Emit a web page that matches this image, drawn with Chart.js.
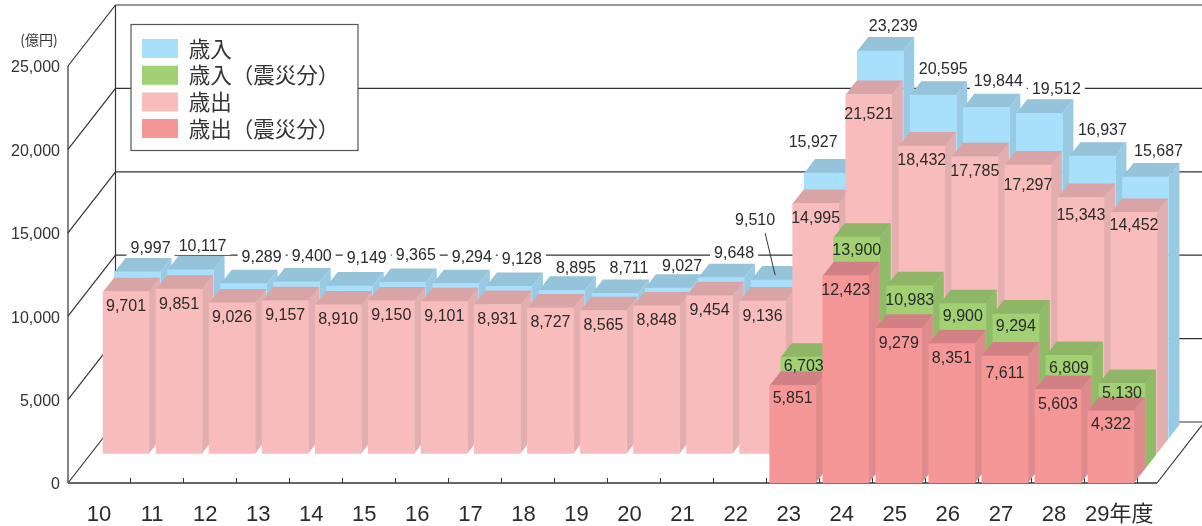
<!DOCTYPE html>
<html lang="ja">
<head>
<meta charset="utf-8">
<title>歳入・歳出の推移</title>
<script src="https://cdn.jsdelivr.net/npm/chart.js@4/dist/chart.umd.js"></script>
<style>
  html, body { margin: 0; padding: 0; background: #fff; }
  canvas { display: block; }
</style>
</head>
<body>
<canvas id="chart" width="1202" height="526"></canvas>
<script>
const years = ["10", "11", "12", "13", "14", "15", "16", "17", "18", "19", "20", "21", "22", "23", "24", "25", "26", "27", "28", "\u00a0\u00a0\u00a0\u00a029年度"];
const revenue = [9997, 10117, 9289, 9400, 9149, 9365, 9294, 9128, 8895, 8711, 9027, 9648, 9510, 15927, 23239, 20595, 19844, 19512, 16937, 15687];
const revenueQuake = [null, null, null, null, null, null, null, null, null, null, null, null, null, 6703, 13900, 10983, 9900, 9294, 6809, 5130];
const spending = [9701, 9851, 9026, 9157, 8910, 9150, 9101, 8931, 8727, 8565, 8848, 9454, 9136, 14995, 21521, 18432, 17785, 17297, 15343, 14452];
const spendingQuake = [null, null, null, null, null, null, null, null, null, null, null, null, null, 5851, 12423, 9279, 8351, 7611, 5603, 4322];
const yTicks = [0, 5000, 10000, 15000, 20000, 25000];

const FONT = '"Liberation Sans", "Noto Sans CJK JP", sans-serif';
const LINE = "#333";
const DEPTH_X = 11;
const DEPTH_Y = 14;
const WALL_X = 47.5;
const WALL_Y = 61;
const AXIS_X = 68;

// how far each row of bars sits back from the front of the floor, and face colours
const rows = [
  { label: "歳入", data: revenue, order: 3, dx: 34, dy: -44.3, front: "#a8dffb", top: "#95c3da", side: "#98cbe3" },
  { label: "歳入（震災分）", data: revenueQuake, order: 1, dx: 10.5, dy: -14, front: "#a1d173", top: "#8fb666", side: "#90bb68" },
  { label: "歳出", data: spending, order: 2, dx: 22.5, dy: -29.5, front: "#f9bcbc", top: "#d9a4a6", side: "#e3aeaf" },
  { label: "歳出（震災分）", data: spendingQuake, order: 0, dx: -0.5, dy: 0, front: "#f69797", top: "#d18083", side: "#dd8b8d" },
];

// labels that don't sit in the default spot
const revenueNudge = { 0: [2, 3], 1: [1, 3], 2: [7, 0], 3: [4, 1], 4: [6, -2], 5: [2, -1], 6: [5, 0], 7: [2, -1], 8: [3, 4], 9: [3, 1], 10: [3, 4], 11: [2, 2], 12: [-30, -33], 13: [-25, -4], 14: [2, 2], 15: [-1, 0], 16: [1, 0], 17: [6, 2], 18: [-1, 0], 19: [2, 1] };
const insideNudge = [
  {},
  { 13: -4, 15: 2, 19: -3 },
  { 14: 5, 17: 6, 18: 3, 19: -2 },
  { 13: -2, 17: 3, 19: -1 },
];

function poly(ctx, pts, fill) {
  ctx.fillStyle = fill;
  ctx.beginPath();
  pts.forEach((p, i) => (i ? ctx.lineTo(p[0], p[1]) : ctx.moveTo(p[0], p[1])));
  ctx.closePath();
  ctx.fill();
}

function seg(ctx, x1, y1, x2, y2) {
  ctx.beginPath();
  ctx.moveTo(x1, y1);
  ctx.lineTo(x2, y2);
  ctx.stroke();
}

function revenueLabelPos(chart, i) {
  const bar = chart.getDatasetMeta(0).data[i];
  const nudge = revenueNudge[i] || [0, 0];
  return [bar.x + rows[0].dx + DEPTH_X + nudge[0], bar.y + rows[0].dy - DEPTH_Y - 12 + nudge[1]];
}

const walls = {
  id: "walls",
  beforeDraw(chart) {
    const ctx = chart.ctx;
    const y = chart.scales.y;
    const base = y.getPixelForValue(0);
    const backX = AXIS_X + WALL_X;
    ctx.save();
    ctx.strokeStyle = LINE;
    ctx.lineWidth = 1.2;
    yTicks.forEach((v) => {
      const py = y.getPixelForValue(v);
      seg(ctx, AXIS_X, py, backX, py - WALL_Y);
      seg(ctx, backX, py - WALL_Y, chart.width, py - WALL_Y);
    });
    seg(ctx, AXIS_X, y.getPixelForValue(25000), AXIS_X, base);
    seg(ctx, backX, y.getPixelForValue(25000) - WALL_Y, backX, base - WALL_Y);
    seg(ctx, 1157, base, chart.width, base - 58);
    ctx.strokeStyle = "#666";
    ctx.lineWidth = 2;
    seg(ctx, AXIS_X, base, 1157, base);
    // legend frame, the legend itself paints on top of this
    ctx.fillStyle = "#fff";
    ctx.strokeStyle = "#555";
    ctx.lineWidth = 1.2;
    ctx.fillRect(131, 24.5, 227, 126);
    ctx.strokeRect(131, 24.5, 227, 126);
    ctx.fillStyle = "#333";
    ctx.font = '14px "Noto Sans CJK JP", sans-serif';
    ctx.textAlign = "center";
    ctx.textBaseline = "middle";
    ctx.fillText("(億円)", 39, 40);
    ctx.restore();
  },
  afterLayout(chart) {
    chart.legend.left = 136.8;
    chart.legend.top = 32.55;
  },
  beforeDatasetsDraw(chart) {
    // white gap in the wall lines behind the revenue figures
    const ctx = chart.ctx;
    ctx.save();
    ctx.font = "16px " + FONT;
    ctx.fillStyle = "#fff";
    revenue.forEach((v, i) => {
      const p = revenueLabelPos(chart, i);
      const w = ctx.measureText(v.toLocaleString("en-US")).width + 8;
      ctx.fillRect(p[0] - w / 2, p[1] - 8, w, 16);
    });
    ctx.restore();
  },
};

const blocks = {
  id: "blocks",
  beforeDatasetDraw(chart, args) {
    const ctx = chart.ctx;
    const row = rows[args.index];
    ctx.save();
    ctx.translate(row.dx, row.dy);
    args.meta.data.forEach((bar, i) => {
      if (row.data[i] === null) return;
      const x0 = bar.x - bar.width / 2;
      const x1 = bar.x + bar.width / 2;
      poly(ctx, [[x1, bar.y], [x1 + DEPTH_X, bar.y - DEPTH_Y], [x1 + DEPTH_X, bar.base - DEPTH_Y], [x1, bar.base]], row.side);
      poly(ctx, [[x0, bar.y], [x1, bar.y], [x1 + DEPTH_X, bar.y - DEPTH_Y], [x0 + DEPTH_X, bar.y - DEPTH_Y]], row.top);
    });
  },
  afterDatasetDraw(chart) {
    chart.ctx.restore();
  },
  afterDatasetsDraw(chart) {
    const ctx = chart.ctx;
    ctx.save();
    ctx.font = "16px " + FONT;
    ctx.fillStyle = "#2b2b2b";
    ctx.textAlign = "center";
    ctx.textBaseline = "middle";
    revenue.forEach((v, i) => {
      const p = revenueLabelPos(chart, i);
      ctx.fillText(v.toLocaleString("en-US"), p[0], p[1]);
    });
    rows.forEach((row, r) => {
      if (r === 0) return;
      const meta = chart.getDatasetMeta(r);
      row.data.forEach((v, i) => {
        if (v === null) return;
        const bar = meta.data[i];
        const below = (r === 1 ? 13 : 15) + (insideNudge[r][i] || 0);
        ctx.fillText(v.toLocaleString("en-US"), bar.x + row.dx, bar.y + row.dy + below);
      });
    });
    // leader line for the 9,510 figure
    const bar = chart.getDatasetMeta(0).data[12];
    ctx.strokeStyle = LINE;
    ctx.lineWidth = 1;
    const p = revenueLabelPos(chart, 12);
    seg(ctx, p[0] + 10, p[1] + 12, bar.x + rows[0].dx + 1, bar.y + rows[0].dy - 5);
    ctx.restore();
  },
};

new Chart(document.getElementById("chart"), {
  type: "bar",
  data: {
    labels: years,
    datasets: rows.map((row) => ({
      label: row.label,
      data: row.data,
      order: row.order,
      backgroundColor: row.front,
      borderWidth: 0,
      clip: false,
      grouped: false,
      barThickness: 46,
    })),
  },
  plugins: [walls, blocks],
  options: {
    responsive: false,
    animation: false,
    devicePixelRatio: 1,
    layout: { padding: { top: 66, right: 64, left: 0, bottom: 0 } },
    plugins: {
      tooltip: { enabled: false },
      legend: {
        position: "chartArea",
        align: "start",
        labels: {
          boxWidth: 36,
          boxHeight: 19,
          padding: 5.2,
          color: "#333",
          font: { family: '"Noto Sans CJK JP", sans-serif', size: 21.5 },
          sort: (a, b) => a.datasetIndex - b.datasetIndex,
        },
      },
    },
    scales: {
      x: {
        afterFit(scale) {
          scale.height = 43;
        },
        border: { display: false },
        grid: {
          drawOnChartArea: false,
          offset: true,
          tickLength: -5,
          tickWidth: 1,
          tickColor: (c) => (c.index === 0 || c.index >= years.length ? "transparent" : LINE),
        },
        ticks: {
          autoSkip: false,
          maxRotation: 0,
          labelOffset: -4.5,
          padding: 24,
          color: "#2b2b2b",
          font: { family: FONT, size: 22 },
        },
      },
      y: {
        min: 0,
        max: 25000,
        afterFit(scale) {
          scale.width = 77;
        },
        afterBuildTicks(scale) {
          scale.ticks = yTicks.map((value) => ({ value }));
        },
        border: { display: false },
        grid: { display: false, drawTicks: false },
        ticks: {
          padding: 17,
          labelOffset: 2,
          color: "#333",
          font: { family: FONT, size: 16 },
          callback: (v) => v.toLocaleString("en-US"),
        },
      },
    },
  },
});
</script>
</body>
</html>
